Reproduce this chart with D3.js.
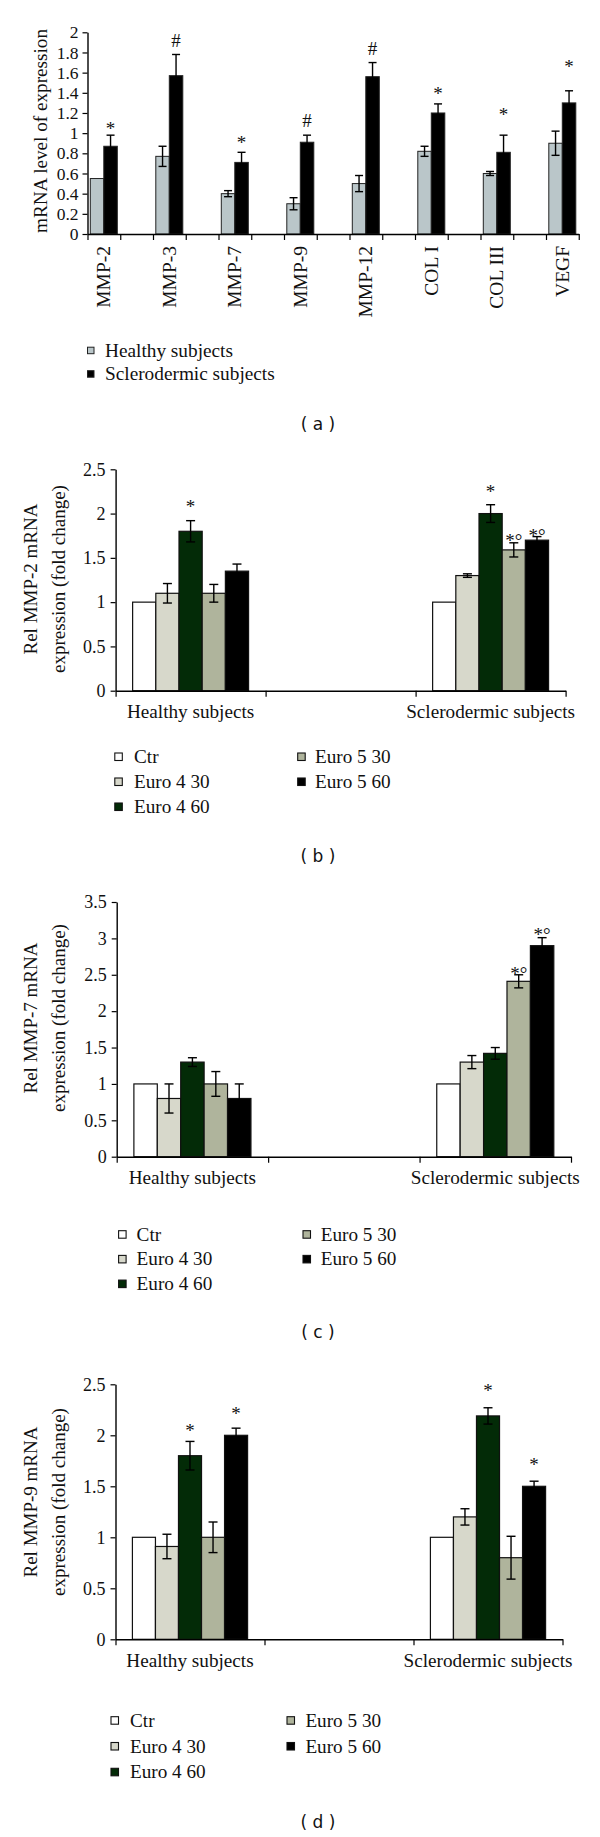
<!DOCTYPE html>
<html><head><meta charset="utf-8">
<script src="https://cdn.jsdelivr.net/npm/d3@7"></script>
<style>body{margin:0;background:#fff}svg{display:block}</style>
</head><body>
<svg id="c" width="600" height="1837"></svg>
<script>
// ---------- Panel (a) data ----------
const catsA = ["MMP-2","MMP-3","MMP-7","MMP-9","MMP-12","COL I","COL III","VEGF"];
const healthyA = [0.55,0.77,0.40,0.30,0.50,0.82,0.60,0.90];
const healthyErrA = [0,0.10,0.03,0.06,0.08,0.05,0.02,0.12];
const sclerA = [0.87,1.57,0.71,0.91,1.56,1.20,0.81,1.30];
const sclerErrA = [0.11,0.21,0.10,0.07,0.14,0.09,0.17,0.12];
const sigA = ["*","#","*","#","#","*","*","*"];
const sigLevelA = [1.07,1.92,0.93,1.13,1.84,1.41,1.21,1.68];
const yTicksA = [0,0.2,0.4,0.6,0.8,1,1.2,1.4,1.6,1.8,2];
const seriesA = ["Healthy subjects","Sclerodermic subjects"];

// ---------- Panels (b)-(d) shared ----------
const groups = ["Healthy subjects","Sclerodermic subjects"];
const treatments = ["Ctr","Euro 4 30","Euro 4 60","Euro 5 30","Euro 5 60"];

// (b) MMP-2
const bHealthy = [1.0,1.1,1.8,1.1,1.35];
const bHealthyErr = [0,0.11,0.12,0.10,0.08];
const bScler = [1.0,1.3,2.0,1.59,1.7];
const bSclerErr = [0,0.02,0.10,0.08,0.04];
const bSig = [{g:0,t:2,s:"*",v:2.10},{g:1,t:2,s:"*",v:2.27},{g:1,t:3,s:"*°",v:1.72},{g:1,t:4,s:"*°",v:1.78}];
const bTicks = [0,0.5,1,1.5,2,2.5];

// (c) MMP-7
const cHealthy = [1.0,0.8,1.3,1.0,0.8];
const cHealthyErr = [0,0.2,0.06,0.17,0.2];
const cScler = [1.0,1.3,1.42,2.41,2.9];
const cSclerErr = [0,0.09,0.08,0.09,0.11];
const cSig = [{g:1,t:3,s:"*°",v:2.54},{g:1,t:4,s:"*°",v:3.08}];
const cTicks = [0,0.5,1,1.5,2,2.5,3,3.5];

// (d) MMP-9
const dHealthy = [1.0,0.91,1.8,1.0,2.0];
const dHealthyErr = [0,0.12,0.14,0.15,0.07];
const dScler = [1.0,1.2,2.19,0.8,1.5];
const dSclerErr = [0,0.08,0.08,0.21,0.05];
const dSig = [{g:0,t:2,s:"*",v:2.07},{g:0,t:4,s:"*",v:2.23},{g:1,t:2,s:"*",v:2.46},{g:1,t:4,s:"*",v:1.73}];
const dTicks = [0,0.5,1,1.5,2,2.5];

// ---------- styles ----------
const SERIF = "'Liberation Serif','Times New Roman',serif";
const SANS = "'DejaVu Sans',Verdana,sans-serif";
const colorA = {"Healthy subjects":"#bac6c9","Sclerodermic subjects":"#000000"};
const colorT = {"Ctr":"#ffffff","Euro 4 30":"#d7d8cb","Euro 4 60":"#032b07","Euro 5 30":"#afb49c","Euro 5 60":"#000000"};

const svg = d3.select("#c");

function errorBar(g, x, y, v, e, cap){
  if (!e) return;
  const p = g.append("g").attr("stroke","#000").attr("stroke-width",1.4);
  p.append("line").attr("x1",x).attr("x2",x).attr("y1",y(v+e)).attr("y2",y(v-e));
  p.append("line").attr("x1",x-cap/2).attr("x2",x+cap/2).attr("y1",y(v+e)).attr("y2",y(v+e));
  p.append("line").attr("x1",x-cap/2).attr("x2",x+cap/2).attr("y1",y(v-e)).attr("y2",y(v-e));
}
function sigMark(g, x, yc, s, size){
  const shift = s === "#" ? 0.36 : 0.45;
  g.append("text").attr("x",x).attr("y",yc + shift*size)
    .attr("text-anchor","middle").attr("font-family",SERIF).attr("font-size",size)
    .attr("fill","#111").text(s);
}
function styleAxis(g){
  g.selectAll("path.domain").attr("stroke","#000").attr("stroke-width",1.4);
  g.selectAll(".tick line").attr("stroke","#000").attr("stroke-width",1.2);
  g.selectAll("text").attr("font-family",SERIF).attr("fill","#111");
}
function panelLabel(letter, y){
  svg.append("text").attr("x",318).attr("y",y).attr("text-anchor","middle")
    .attr("font-family",SANS).attr("font-size",17).attr("fill","#111")
    .attr("xml:space","preserve").text("( " + letter + " )");
}

// ================= Panel (a) =================
(function(){
  const x0 = 87.5, x1 = 579.5, y0 = 234, yT = 32.3;
  const y = d3.scaleLinear().domain([0,2]).range([y0,yT]);
  const bw = 65.5;
  const x = d3.scaleBand().domain(catsA).range([x0, x0 + bw*catsA.length]);
  const inner = d3.scaleBand().domain(seriesA).range([2.8, 2.8 + 27.0]);
  const g = svg.append("g");

  catsA.forEach((c,i)=>{
    const vals = [healthyA[i], sclerA[i]];
    const errs = [healthyErrA[i], sclerErrA[i]];
    seriesA.forEach((s,j)=>{
      const bx = x(c) + inner(s);
      g.append("rect").attr("x",bx).attr("y",y(vals[j])).attr("width",inner.bandwidth())
        .attr("height",y(0)-y(vals[j])).attr("fill",colorA[s]).attr("stroke","#222").attr("stroke-width",1);
    });
    seriesA.forEach((s,j)=>{
      errorBar(g, x(c)+inner(s)+inner.bandwidth()/2, y, vals[j], errs[j], 8);
    });
    sigMark(g, x(c)+inner(seriesA[1])+inner.bandwidth()/2, y(sigLevelA[i]), sigA[i], 19);
  });

  const ya = g.append("g").attr("transform",`translate(${x0},0)`)
    .call(d3.axisLeft(y).tickValues(yTicksA).tickFormat(d=>String(d)).tickSize(5).tickSizeOuter(0).tickPadding(4));
  ya.selectAll("text").attr("font-size",17.5);
  styleAxis(ya);

  const xl = d3.scaleLinear().domain([0,15]).range([x0, x0 + 15*bw/2]);
  const xa = g.append("g").attr("transform",`translate(0,${y0})`)
    .call(d3.axisBottom(xl).tickValues(d3.range(16)).tickFormat("").tickSize(6).tickSizeOuter(0));
  styleAxis(xa);

  catsA.forEach(c=>{
    const cx = x(c) + inner(seriesA[1]);
    g.append("text").attr("transform",`translate(${cx},246) rotate(-90)`)
      .attr("text-anchor","end").attr("dy","0.34em")
      .attr("font-family",SERIF).attr("font-size",19.5).attr("fill","#111").text(c);
  });

  g.append("text").attr("transform",`translate(41,131) rotate(-90)`)
    .attr("text-anchor","middle").attr("dy","0.32em")
    .attr("font-family",SERIF).attr("font-size",19.2).attr("fill","#111").text("mRNA level of expression");

  seriesA.forEach((s,i)=>{
    const by = 356.7 + i*23.5;
    g.append("rect").attr("x",87.5).attr("y",by-9.5).attr("width",6.5).attr("height",6.5)
      .attr("fill",colorA[s]).attr("stroke","#222").attr("stroke-width",1);
    g.append("text").attr("x",105).attr("y",by).attr("font-family",SERIF).attr("font-size",19.3)
      .attr("fill","#111").text(s);
  });
  panelLabel("a", 430);
})();

// ================= Panels (b)-(d) =================
function treatmentPanel(cfg){
  const {x0,x1,y0,yT,yMax,ticks,healthy,healthyErr,scler,sclerErr,sig,title,titleY,leg} = cfg;
  const g = svg.append("g");
  const y = d3.scaleLinear().domain([0,yMax]).range([y0,yT]);
  const slots = d3.scaleBand().domain([0,1,2]).range([x0,x1]);
  const groupSlot = [0,2];
  const gw = slots.bandwidth()*0.773;
  const inner = d3.scaleBand().domain(treatments).range([0,gw]);
  const data = [[healthy,healthyErr],[scler,sclerErr]];

  groups.forEach((grp,gi)=>{
    const gx = slots(groupSlot[gi]) + (slots.bandwidth()-gw)/2;
    treatments.forEach((t,ti)=>{
      const v = data[gi][0][ti];
      g.append("rect").attr("x",gx+inner(t)).attr("y",y(v)).attr("width",inner.bandwidth())
        .attr("height",y(0)-y(v)).attr("fill",colorT[t]).attr("stroke","#111").attr("stroke-width",1.2);
    });
    treatments.forEach((t,ti)=>{
      errorBar(g, gx+inner(t)+inner.bandwidth()/2, y, data[gi][0][ti], data[gi][1][ti], 9);
    });
    g.append("text").attr("x",slots(groupSlot[gi])+slots.bandwidth()/2).attr("y",y0+27.5)
      .attr("text-anchor","middle").attr("font-family",SERIF).attr("font-size",19.2)
      .attr("fill","#111").text(grp);
  });
  sig.forEach(d=>{
    const gx = slots(groupSlot[d.g]) + (slots.bandwidth()-gw)/2;
    sigMark(g, gx+inner(treatments[d.t])+inner.bandwidth()/2, y(d.v), d.s, 19);
  });

  const ya = g.append("g").attr("transform",`translate(${x0},0)`)
    .call(d3.axisLeft(y).tickValues(ticks).tickFormat(d=>String(d)).tickSize(5).tickSizeOuter(0).tickPadding(5));
  ya.selectAll("text").attr("font-size",18);
  styleAxis(ya);
  const xl = d3.scaleLinear().domain([0,3]).range([x0,x1]);
  const xa = g.append("g").attr("transform",`translate(0,${y0})`)
    .call(d3.axisBottom(xl).tickValues([0,1,2,3]).tickFormat("").tickSize(6).tickSizeOuter(0));
  styleAxis(xa);

  title.forEach((line,i)=>{
    g.append("text").attr("transform",`translate(${30.6 + i*28.7},${titleY}) rotate(-90)`)
      .attr("text-anchor","middle").attr("dy","0.32em")
      .attr("font-family",SERIF).attr("font-size",19).attr("fill","#111").text(line);
  });

  const layout = [[0,0],[0,1],[0,2],[1,0],[1,1]];
  treatments.forEach((t,i)=>{
    const [col,row] = layout[i];
    const by = leg.y + row*leg.step;
    g.append("rect").attr("x",leg.sq[col]).attr("y",by-10).attr("width",7.5).attr("height",7.5)
      .attr("fill",colorT[t]).attr("stroke","#111").attr("stroke-width",1.1);
    g.append("text").attr("x",leg.tx[col]).attr("y",by).attr("font-family",SERIF)
      .attr("font-size",19.2).attr("fill","#111").text(t);
  });
  panelLabel(cfg.letter, cfg.labelY);
}

treatmentPanel({x0:115.6,x1:565.6,y0:690.7,yT:469.3,yMax:2.5,ticks:bTicks,
  healthy:bHealthy,healthyErr:bHealthyErr,scler:bScler,sclerErr:bSclerErr,sig:bSig,
  title:["Rel MMP-2 mRNA","expression (fold change)"],titleY:579,
  leg:{y:763,step:25,sq:[114.8,297.7],tx:[134,315]},letter:"b",labelY:861.7});

treatmentPanel({x0:116.7,x1:571,y0:1156.7,yT:902,yMax:3.5,ticks:cTicks,
  healthy:cHealthy,healthyErr:cHealthyErr,scler:cScler,sclerErr:cSclerErr,sig:cSig,
  title:["Rel MMP-7 mRNA","expression (fold change)"],titleY:1018,
  leg:{y:1240.7,step:24.7,sq:[118.6,303],tx:[136.6,320.7]},letter:"c",labelY:1338});

treatmentPanel({x0:115.5,x1:562.5,y0:1639.3,yT:1384.3,yMax:2.5,ticks:dTicks,
  healthy:dHealthy,healthyErr:dHealthyErr,scler:dScler,sclerErr:dSclerErr,sig:dSig,
  title:["Rel MMP-9 mRNA","expression (fold change)"],titleY:1502,
  leg:{y:1726.7,step:25.8,sq:[111,287],tx:[130,305.4]},letter:"d",labelY:1828});
</script>
</body></html>
